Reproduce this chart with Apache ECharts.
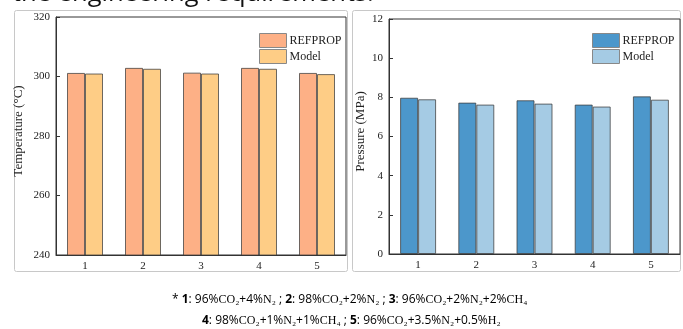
<!DOCTYPE html>
<html>
<head>
<meta charset="utf-8">
<script src="https://cdn.jsdelivr.net/npm/echarts@6/dist/echarts.min.js"></script>
<style>
  html, body { margin: 0; padding: 0; background: #fff; }
  #chart { width: 683px; height: 329px; }
</style>
</head>
<body>
<div id="chart"></div>
<script>
const categories = ['1', '2', '3', '4', '5']
const seriesNames = ['REFPROP', 'Model']
// 温度 (°C)
const tempRefprop = [301.2, 302.9, 301.3, 302.9, 301.2]
const tempModel = [301.0, 302.6, 301.0, 302.6, 300.8]
// 压力 (MPa)
const presRefprop = [7.98, 7.73, 7.85, 7.63, 8.05]
const presModel = [7.90, 7.63, 7.68, 7.53, 7.88]
const tempTicks = [240, 320, 20]
const presTicks = [0, 12, 2]

const serif = '"Liberation Serif", "DejaVu Serif", serif'
const sans = '"Open Sans", "Noto Sans", sans-serif'
const noteBlue = '#2f6eae'
const chartInstance = echarts.init(document.getElementById('chart'))

function axisPair(gridIndex, ticks, name, nameGap) {
  const xAxis = {
    type: 'category',
    gridIndex,
    data: categories,
    axisTick: { show: false },
    axisLine: { lineStyle: { color: '#333', width: 1 } },
    axisLabel: { color: '#222', fontFamily: serif, fontSize: 11, margin: 6 }
  }
  const yAxis = {
    type: 'value',
    gridIndex,
    min: ticks[0],
    max: ticks[1],
    interval: ticks[2],
    name,
    nameLocation: 'middle',
    nameGap,
    nameTextStyle: { color: '#222', fontFamily: serif, fontSize: 13, padding: [0, 0, 0, 10] },
    axisLine: { show: true, lineStyle: { color: '#333', width: 1 } },
    axisTick: { show: true, inside: true, length: 4, lineStyle: { color: '#333' } },
    axisLabel: { color: '#222', fontFamily: serif, fontSize: 11, margin: 6 },
    splitLine: { show: false }
  }
  return [xAxis, yAxis]
}

function barSeries(name, axisIndex, data, color) {
  return {
    name,
    type: 'bar',
    xAxisIndex: axisIndex,
    yAxisIndex: axisIndex,
    data,
    barWidth: 18,
    barGap: '0%',
    itemStyle: { color, borderColor: 'rgba(60,60,60,0.75)', borderWidth: 1 }
  }
}

function legendAt(left, colors) {
  return {
    left,
    top: 28,
    orient: 'vertical',
    itemWidth: 27,
    itemHeight: 14,
    itemGap: 1,
    selectedMode: false,
    textStyle: { color: '#222', fontFamily: serif, fontSize: 12, padding: [0, 0, 0, -2] },
    data: seriesNames.map((n, i) => ({
      name: n,
      icon: 'rect',
      itemStyle: { color: colors[i], borderColor: '#888', borderWidth: 1 }
    }))
  }
}

const leftAxes = axisPair(0, tempTicks, 'Temperature (°C)', 31)
const rightAxes = axisPair(1, presTicks, 'Pressure (MPa)', 22)

const noteRich = {
  s: { color: noteBlue, fontFamily: sans, fontSize: 12 },
  b: { color: noteBlue, fontFamily: sans, fontSize: 12, fontWeight: 'bold' },
  f: { color: noteBlue, fontFamily: serif, fontSize: 12 }
}

const option = {
  animation: false,
  graphic: [
    {
      type: 'text',
      left: 12,
      top: -19,
      style: { text: 'the engineering requirements.', fontFamily: sans, fontSize: 25.5, fill: '#111' }
    },
    { type: 'rect', shape: { x: 14.5, y: 10.5, width: 333, height: 261, r: 2 }, style: { fill: 'none', stroke: '#c8c8c8', lineWidth: 1 }, z: -1 },
    { type: 'rect', shape: { x: 352.5, y: 10.5, width: 328, height: 261, r: 2 }, style: { fill: 'none', stroke: '#c8c8c8', lineWidth: 1 }, z: -1 },
    {
      type: 'text',
      left: 172,
      top: 294,
      style: {
        text: '{s|* }{b|1}{s|: 96%}{f|CO₂}{s|+4%}{f|N₂}{s| ; }{b|2}{s|: 98%}{f|CO₂}{s|+2%}{f|N₂}{s| ; }{b|3}{s|: 96%}{f|CO₂}{s|+2%}{f|N₂}{s|+2%}{f|CH₄}',
        rich: noteRich
      }
    },
    {
      type: 'text',
      left: 202,
      top: 315,
      style: {
        text: '{b|4}{s|: 98%}{f|CO₂}{s|+1%}{f|N₂}{s|+1%}{f|CH₄}{s| ; }{b|5}{s|: 96%}{f|CO₂}{s|+3.5%}{f|N₂}{s|+0.5%}{f|H₂}',
        rich: noteRich
      }
    }
  ],
  grid: [
    { left: 56, right: 337, top: 17, bottom: 74, show: true, borderColor: '#333', borderWidth: 1 },
    { left: 389, right: 3, top: 19, bottom: 75, show: true, borderColor: '#333', borderWidth: 1 }
  ],
  legend: [
    legendAt(254, ['#fdb086', '#fecd86']),
    legendAt(587, ['#4c97cb', '#a5cbe4'])
  ],
  xAxis: [leftAxes[0], rightAxes[0]],
  yAxis: [leftAxes[1], rightAxes[1]],
  series: [
    barSeries('REFPROP', 0, tempRefprop, '#fdb086'),
    barSeries('Model', 0, tempModel, '#fecd86'),
    barSeries('REFPROP', 1, presRefprop, '#4c97cb'),
    barSeries('Model', 1, presModel, '#a5cbe4')
  ]
}

chartInstance.setOption(option)
</script>
</body>
</html>
